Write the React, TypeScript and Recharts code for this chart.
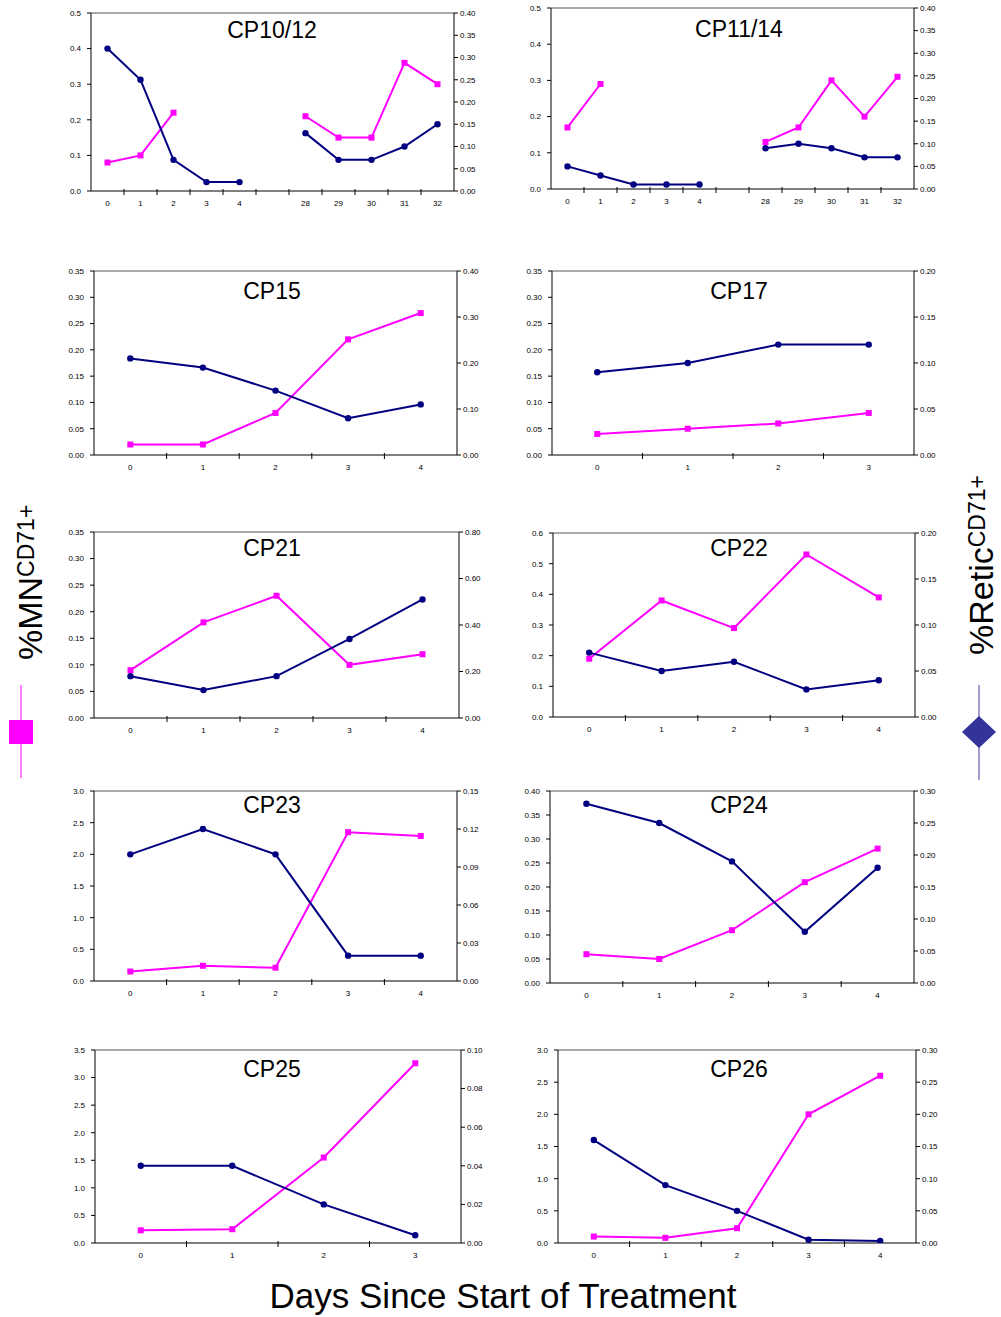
import React from "react";
import { LineChart, Line, XAxis, YAxis, ReferenceLine } from "recharts";

// day labels on the x axes
const daysSplit = ["0", "1", "2", "3", "4", "", "28", "29", "30", "31", "32"];
const days5 = ["0", "1", "2", "3", "4"];
const days4 = ["0", "1", "2", "3"];

// %MN CD71+ (left axis, magenta)
const mnCP1012 = [0.08, 0.1, 0.22, null, null, null, 0.21, 0.15, 0.15, 0.36, 0.3];
const mnCP1114 = [0.17, 0.29, null, null, null, null, 0.13, 0.17, 0.3, 0.2, 0.31];
const mnCP15 = [0.02, 0.02, 0.08, 0.22, 0.27];
const mnCP17 = [0.04, 0.05, 0.06, 0.08];
const mnCP21 = [0.09, 0.18, 0.23, 0.1, 0.12];
const mnCP22 = [0.19, 0.38, 0.29, 0.53, 0.39];
const mnCP23 = [0.15, 0.24, 0.21, 2.35, 2.29];
const mnCP24 = [0.06, 0.05, 0.11, 0.21, 0.28];
const mnCP25 = [0.23, 0.25, 1.55, 3.26];
const mnCP26 = [0.1, 0.08, 0.23, 2.0, 2.6];

// %Retic CD71+ (right axis, navy)
const reticCP1012 = [0.32, 0.25, 0.07, 0.02, 0.02, null, 0.13, 0.07, 0.07, 0.1, 0.15];
const reticCP1114 = [0.05, 0.03, 0.01, 0.01, 0.01, null, 0.09, 0.1, 0.09, 0.07, 0.07];
const reticCP15 = [0.21, 0.19, 0.14, 0.08, 0.11];
const reticCP17 = [0.09, 0.1, 0.12, 0.12];
const reticCP21 = [0.18, 0.12, 0.18, 0.34, 0.51];
const reticCP22 = [0.07, 0.05, 0.06, 0.03, 0.04];
const reticCP23 = [0.1, 0.12, 0.1, 0.02, 0.02];
const reticCP24 = [0.28, 0.25, 0.19, 0.08, 0.18];
const reticCP25 = [0.04, 0.04, 0.02, 0.004];
const reticCP26 = [0.16, 0.09, 0.05, 0.005, 0.003];

// y axis tick values
const t0to05 = [0, 0.1, 0.2, 0.3, 0.4, 0.5];
const t0to06 = [0, 0.1, 0.2, 0.3, 0.4, 0.5, 0.6];
const t0to035 = [0, 0.05, 0.1, 0.15, 0.2, 0.25, 0.3, 0.35];
const t0to040f = [0, 0.05, 0.1, 0.15, 0.2, 0.25, 0.3, 0.35, 0.4];
const t0to040 = [0, 0.1, 0.2, 0.3, 0.4];
const t0to020 = [0, 0.05, 0.1, 0.15, 0.2];
const t0to080 = [0, 0.2, 0.4, 0.6, 0.8];
const t0to30 = [0, 0.5, 1.0, 1.5, 2.0, 2.5, 3.0];
const t0to35 = [0, 0.5, 1.0, 1.5, 2.0, 2.5, 3.0, 3.5];
const t0to015 = [0, 0.03, 0.06, 0.09, 0.12, 0.15];
const t0to030 = [0, 0.05, 0.1, 0.15, 0.2, 0.25, 0.3];
const t0to010 = [0, 0.02, 0.04, 0.06, 0.08, 0.1];

const panels = [
  { title: "CP10/12", days: daysSplit, mn: mnCP1012, retic: reticCP1012, mnTicks: t0to05, mnDec: 1, reticTicks: t0to040f },
  { title: "CP11/14", days: daysSplit, mn: mnCP1114, retic: reticCP1114, mnTicks: t0to05, mnDec: 1, reticTicks: t0to040f },
  { title: "CP15", days: days5, mn: mnCP15, retic: reticCP15, mnTicks: t0to035, mnDec: 2, reticTicks: t0to040 },
  { title: "CP17", days: days4, mn: mnCP17, retic: reticCP17, mnTicks: t0to035, mnDec: 2, reticTicks: t0to020 },
  { title: "CP21", days: days5, mn: mnCP21, retic: reticCP21, mnTicks: t0to035, mnDec: 2, reticTicks: t0to080 },
  { title: "CP22", days: days5, mn: mnCP22, retic: reticCP22, mnTicks: t0to06, mnDec: 1, reticTicks: t0to020 },
  { title: "CP23", days: days5, mn: mnCP23, retic: reticCP23, mnTicks: t0to30, mnDec: 1, reticTicks: t0to015 },
  { title: "CP24", days: days5, mn: mnCP24, retic: reticCP24, mnTicks: t0to040f, mnDec: 2, reticTicks: t0to030 },
  { title: "CP25", days: days4, mn: mnCP25, retic: reticCP25, mnTicks: t0to35, mnDec: 1, reticTicks: t0to010 },
  { title: "CP26", days: days5, mn: mnCP26, retic: reticCP26, mnTicks: t0to30, mnDec: 1, reticTicks: t0to030 },
];

// plot area boxes on the page
const layout = [
  { left: 91, top: 13, right: 454, bottom: 191, titleX: 272, titleY: 38 },
  { left: 551, top: 8, right: 914, bottom: 189, titleX: 739, titleY: 37 },
  { left: 94, top: 271, right: 457, bottom: 455, titleX: 272, titleY: 299 },
  { left: 552, top: 271, right: 914, bottom: 455, titleX: 739, titleY: 299 },
  { left: 94, top: 532, right: 459, bottom: 718, titleX: 272, titleY: 556 },
  { left: 553, top: 533, right: 915, bottom: 717, titleX: 739, titleY: 556 },
  { left: 94, top: 791, right: 457, bottom: 981, titleX: 272, titleY: 813 },
  { left: 550, top: 791, right: 914, bottom: 983, titleX: 739, titleY: 813 },
  { left: 95, top: 1050, right: 461, bottom: 1243, titleX: 272, titleY: 1077 },
  { left: 558, top: 1050, right: 916, bottom: 1243, titleX: 739, titleY: 1077 },
];

const MAGENTA = "#ff00ff";
const NAVY = "#000080";
const FONT = "'Liberation Sans', Arial, sans-serif";
const AX = 45;

const squareDot = (props: any) => {
  const { cx, cy, index, payload } = props;
  if (cx == null || cy == null || payload.mn == null) return <g key={"s" + index} />;
  return <rect key={"s" + index} x={cx - 3} y={cy - 3} width={6} height={6} fill={MAGENTA} />;
};

const roundDot = (props: any) => {
  const { cx, cy, index, payload } = props;
  if (cx == null || cy == null || payload.retic == null) return <g key={"c" + index} />;
  return <circle key={"c" + index} cx={cx} cy={cy} r={3.2} fill={NAVY} />;
};

function Panel({ p, box }: { p: any; box: any }) {
  const plotW = box.right - box.left;
  const plotH = box.bottom - box.top;
  const n = p.days.length;
  const half = plotW / n / 2;
  const data = p.days.map((d: string, i: number) => ({ i, mn: p.mn[i], retic: p.retic[i] }));
  const mnMax = p.mnTicks[p.mnTicks.length - 1];
  const reticMax = p.reticTicks[p.reticTicks.length - 1];

  const dayTick = (props: any) => {
    const { x, y, payload, index } = props;
    return (
      <g key={"t" + index}>
        {payload.value > 0 && (
          <line x1={x - half} x2={x - half} y1={y - 2} y2={y + 4} stroke="#000" strokeWidth={1} />
        )}
        <text x={x} y={y + 15} textAnchor="middle" fontSize={8} fill="#000" fontFamily={FONT}>
          {p.days[payload.value]}
        </text>
      </g>
    );
  };

  return (
    <div style={{ position: "absolute", left: box.left - AX, top: box.top - 10 }}>
      <LineChart
        width={plotW + 2 * AX}
        height={plotH + 35}
        data={data}
        margin={{ top: 10, right: 0, left: 0, bottom: 0 }}
      >
        <XAxis
          dataKey="i"
          type="number"
          domain={[-0.5, n - 0.5]}
          ticks={data.map((r: any) => r.i)}
          interval={0}
          allowDataOverflow
          tickLine={false}
          tickSize={0}
          tickMargin={0}
          height={25}
          axisLine={{ stroke: "#000" }}
          tick={dayTick}
        />
        <YAxis
          yAxisId="mn"
          orientation="left"
          width={AX}
          domain={[0, mnMax]}
          ticks={p.mnTicks}
          interval={0}
          allowDataOverflow
          tickFormatter={(v: number) => v.toFixed(p.mnDec)}
          tick={{ fontSize: 8, fill: "#000", fontFamily: FONT }}
          tickSize={4}
          tickMargin={6}
          axisLine={{ stroke: "#000" }}
          tickLine={{ stroke: "#000" }}
        />
        <YAxis
          yAxisId="retic"
          orientation="right"
          width={AX}
          domain={[0, reticMax]}
          ticks={p.reticTicks}
          interval={0}
          allowDataOverflow
          tickFormatter={(v: number) => v.toFixed(2)}
          tick={{ fontSize: 8, fill: "#000", fontFamily: FONT }}
          tickSize={4}
          tickMargin={2}
          axisLine={{ stroke: "#000" }}
          tickLine={{ stroke: "#000" }}
        />
        <ReferenceLine yAxisId="mn" y={mnMax} stroke="#555" strokeWidth={1} />
        <Line
          yAxisId="mn"
          dataKey="mn"
          type="linear"
          stroke={MAGENTA}
          strokeWidth={2}
          dot={squareDot}
          activeDot={false}
          isAnimationActive={false}
        />
        <Line
          yAxisId="retic"
          dataKey="retic"
          type="linear"
          stroke={NAVY}
          strokeWidth={2}
          dot={roundDot}
          activeDot={false}
          isAnimationActive={false}
        />
      </LineChart>
    </div>
  );
}

export default function App() {
  return (
    <div style={{ position: "relative", width: 1001, height: 1317, background: "#fff", fontFamily: FONT }}>
      <style>{`body{margin:0}`}</style>
      {panels.map((p, k) => (
        <Panel key={p.title} p={p} box={layout[k]} />
      ))}
      <svg width={1001} height={1317} style={{ position: "absolute", left: 0, top: 0, pointerEvents: "none" }}>
        {panels.map((p, k) => (
          <text key={p.title} x={layout[k].titleX} y={layout[k].titleY} textAnchor="middle" fontSize={23} fontFamily={FONT} fill="#000">
            {p.title}
          </text>
        ))}
        <text x={503} y={1308} textAnchor="middle" fontSize={35} fontFamily={FONT} fill="#000">
          Days Since Start of Treatment
        </text>
        <text transform="translate(42,660) rotate(-90)" fontSize={34} fontFamily={FONT} fill="#000">
          %MN
          <tspan fontSize={23} dy={-8}>CD71+</tspan>
        </text>
        <line x1={21} x2={21} y1={685} y2={778} stroke={MAGENTA} strokeWidth={1} />
        <rect x={9} y={720} width={24} height={24} fill={MAGENTA} />
        <text transform="translate(993,655) rotate(-90)" fontSize={34} fontFamily={FONT} fill="#000">
          %Retic
          <tspan fontSize={23} dy={-8}>CD71+</tspan>
        </text>
        <line x1={979} x2={979} y1={685} y2={780} stroke="#8080c0" strokeWidth={1.5} />
        <polygon points="962,732 979,716 996,732 979,748" fill="#333399" />
      </svg>
    </div>
  );
}
